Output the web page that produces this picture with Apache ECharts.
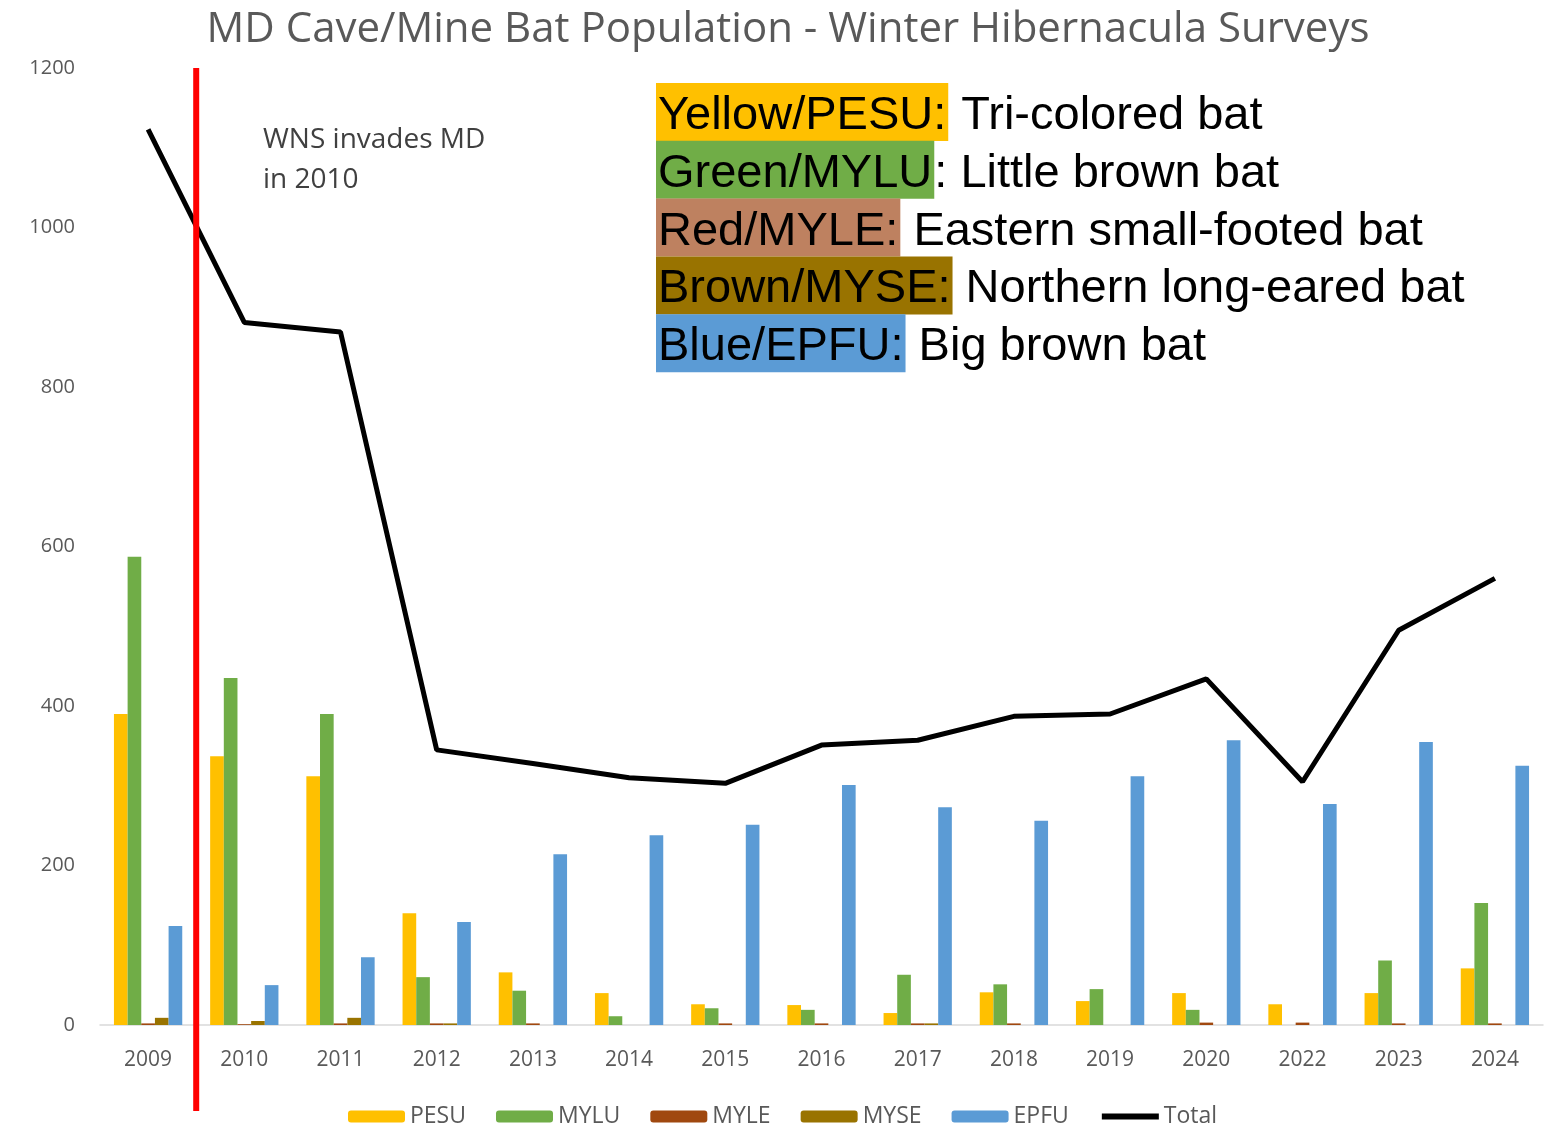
<!DOCTYPE html>
<html>
<head>
<meta charset="utf-8">
<script src="https://cdn.jsdelivr.net/npm/echarts@6/dist/echarts.min.js"></script>
<style>
html,body{margin:0;padding:0;background:#fff;}
#main{width:1562px;height:1138px;}
</style>
</head>
<body>
<div id="main"></div>
<script>
const years = ['2009','2010','2011','2012','2013','2014','2015','2016','2017','2018','2019','2020','2022','2023','2024'];
const pesu  = [390,337,312,140,66,40,26,25,15,41,30,40,26,40,71];
const mylu  = [587,435,390,60,43,11,21,19,63,51,45,19,0,81,153];
const myle  = [2,1,2,2,2,0,2,2,2,2,0,3,3,2,2];
const myse  = [9,5,9,2,0,0,0,0,2,0,0,0,0,0,0];
const epfu  = [124,50,85,129,214,238,251,301,273,256,312,357,277,355,325];
const total = [1123,881,869,345,328,310,303,351,357,387,390,434,305,495,560];
const yTicks = [0,200,400,600,800,1000,1200];

const noteRows = [
  {key:'Yellow/PESU:', rest:' Tri-colored bat', bg:'#FFC000'},
  {key:'Green/MYLU', rest:': Little brown bat', bg:'#70AD47'},
  {key:'Red/MYLE:', rest:' Eastern small-footed bat', bg:'#BE8160'},
  {key:'Brown/MYSE:', rest:' Northern long-eared bat', bg:'#997300'},
  {key:'Blue/EPFU:', rest:' Big brown bat', bg:'#5B9BD5'}
];

const chart = echarts.init(document.getElementById('main'));
const gray = '#595959';
const labelFont = '"Open Sans", "Noto Sans", sans-serif';

function barSeries(name, data, color){
  return {name, type:'bar', data, barGap:'0%', barCategoryGap:'29%',
          itemStyle:{color}, emphasis:{disabled:true}};
}

const option = {
  animation:false,
  backgroundColor:'#fff',
  title:{
    text:'MD Cave/Mine Bat Population - Winter Hibernacula Surveys',
    left:783, textAlign:'center', top:4,
    textStyle:{fontFamily:labelFont, fontSize:42, fontWeight:'normal', color:gray}
  },
  grid:{left:100, right:19, top:68, bottom:113},
  legend:{
    bottom:5, left:343, itemWidth:57, itemHeight:12, itemGap:30,
    textStyle:{fontFamily:labelFont, fontSize:23, color:gray},
    data:['PESU','MYLU','MYLE','MYSE','EPFU',
          {name:'Total', itemStyle:{opacity:0}, lineStyle:{width:6, color:'#000'}}]
  },
  xAxis:{
    type:'category', data:years,
    axisLine:{lineStyle:{color:'#D9D9D9', width:1.5}},
    axisTick:{show:false},
    axisLabel:{fontFamily:labelFont, fontSize:21, color:gray, margin:25}
  },
  yAxis:{
    type:'value', min:yTicks[0], max:yTicks[yTicks.length-1], interval:200,
    axisLine:{show:false}, axisTick:{show:false}, splitLine:{show:false},
    axisLabel:{fontFamily:labelFont, fontSize:20, color:gray, margin:25,
               formatter:(v)=>String(v)}
  },
  series:[
    barSeries('PESU', pesu, '#FFC000'),
    barSeries('MYLU', mylu, '#70AD47'),
    barSeries('MYLE', myle, '#A0480F'),
    barSeries('MYSE', myse, '#997300'),
    barSeries('EPFU', epfu, '#5B9BD5'),
    {name:'Total', type:'line', data:total, symbol:'none', showSymbol:false,
     lineStyle:{color:'#000', width:5}, itemStyle:{color:'#000'}, z:5,
     emphasis:{disabled:true}}
  ]
};
chart.setOption(option);

// annotation graphics
const x0 = chart.convertToPixel({xAxisIndex:0}, years[0]);
const x1 = chart.convertToPixel({xAxisIndex:0}, years[1]);
const redX = (x0 + x1) / 2;
const yTop = chart.convertToPixel({yAxisIndex:0}, yTicks[yTicks.length-1]);
const H = chart.getHeight();

const graphics = [
  {type:'line', z:100, shape:{x1:redX, y1:yTop, x2:redX, y2:H-27},
   style:{stroke:'#FF0000', lineWidth:6}},
  {type:'text', left:263, top:120, z:100,
   style:{text:'WNS invades MD\nin 2010', fontFamily:labelFont, fontSize:28, lineHeight:40, fill:'#404040'}}
];
noteRows.forEach((r, i) => {
  graphics.push({
    type:'text', left:656, top:83 + i*57.8, z:100,
    style:{
      text:'{k|' + r.key + '}{n|' + r.rest + '}',
      rich:{
        k:{backgroundColor:r.bg, fontFamily:'"Liberation Sans", Arial, sans-serif', fontSize:47, height:50, lineHeight:58, fill:'#000', padding:[8,2,0,2]},
        n:{fontFamily:'"Liberation Sans", Arial, sans-serif', fontSize:47, height:50, lineHeight:58, fill:'#000', padding:[8,0,0,0]}
      }
    }
  });
});
chart.setOption({graphic:graphics});
</script>
</body>
</html>
